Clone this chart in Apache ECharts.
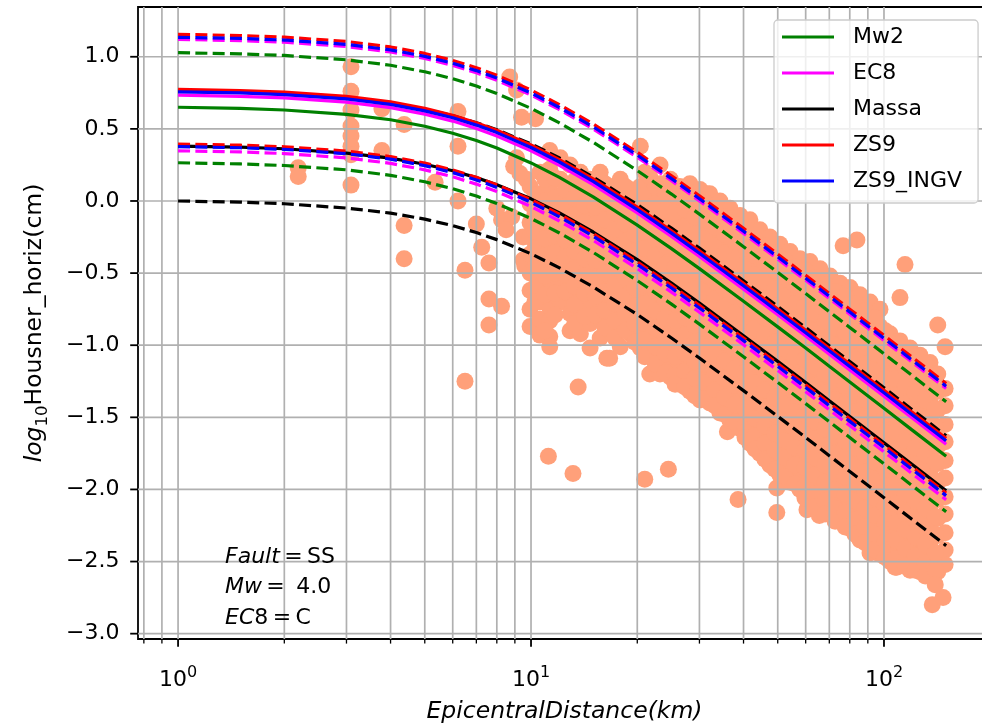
<!DOCTYPE html>
<html><head><meta charset="utf-8">
<script src="https://cdn.jsdelivr.net/npm/echarts@6/dist/echarts.min.js"></script>
<style>html,body{margin:0;padding:0;background:#fff}#chart{width:982px;height:723px}</style>
</head><body><div id="chart"></div>
<script>
const FONT = 'DejaVu Sans';
// distances (km) at which the model curves are read
const distance = [1, 1.5, 2, 3, 4, 5, 6, 7, 8, 10, 12, 15, 20, 25, 30, 40, 50, 60, 70, 80, 100, 120, 150];
const mw2Mean  = [0.65, 0.642, 0.631, 0.601, 0.563, 0.518, 0.47, 0.419, 0.367, 0.264, 0.165, 0.029, -0.167, -0.33, -0.469, -0.695, -0.873, -1.02, -1.146, -1.255, -1.437, -1.587, -1.77];
const mw2Up    = [1.028, 1.02, 1.009, 0.979, 0.941, 0.896, 0.848, 0.797, 0.745, 0.642, 0.543, 0.407, 0.211, 0.048, -0.091, -0.317, -0.495, -0.642, -0.768, -0.877, -1.059, -1.209, -1.392];
const mw2Low   = [0.265, 0.257, 0.246, 0.216, 0.178, 0.133, 0.085, 0.034, -0.018, -0.121, -0.22, -0.356, -0.552, -0.715, -0.854, -1.08, -1.258, -1.405, -1.531, -1.64, -1.822, -1.972, -2.155];
const ec8Mean  = [0.734, 0.726, 0.715, 0.685, 0.647, 0.602, 0.554, 0.503, 0.451, 0.348, 0.249, 0.113, -0.083, -0.246, -0.385, -0.611, -0.789, -0.936, -1.062, -1.171, -1.353, -1.503, -1.686];
const ec8Up    = [1.12, 1.112, 1.101, 1.071, 1.033, 0.988, 0.94, 0.889, 0.837, 0.734, 0.635, 0.499, 0.303, 0.14, 0.001, -0.225, -0.403, -0.55, -0.676, -0.785, -0.967, -1.117, -1.3];
const ec8Low   = [0.348, 0.34, 0.329, 0.299, 0.261, 0.216, 0.168, 0.117, 0.065, -0.038, -0.137, -0.273, -0.469, -0.632, -0.771, -0.997, -1.175, -1.322, -1.448, -1.557, -1.739, -1.889, -2.072];
const massaMean= [0.381, 0.373, 0.362, 0.332, 0.297, 0.255, 0.21, 0.162, 0.113, 0.015, -0.081, -0.215, -0.406, -0.569, -0.708, -0.934, -1.112, -1.259, -1.385, -1.494, -1.676, -1.826, -2.009];
const massaUp  = [0.762, 0.754, 0.743, 0.713, 0.678, 0.636, 0.591, 0.543, 0.494, 0.396, 0.3, 0.166, -0.025, -0.188, -0.327, -0.553, -0.731, -0.878, -1.004, -1.113, -1.295, -1.445, -1.628];
const massaLow = [0, -0.008, -0.019, -0.049, -0.084, -0.126, -0.171, -0.219, -0.268, -0.366, -0.462, -0.596, -0.787, -0.95, -1.089, -1.315, -1.493, -1.64, -1.766, -1.875, -2.057, -2.207, -2.39];
const zs9Mean  = [0.774, 0.766, 0.755, 0.725, 0.687, 0.642, 0.594, 0.543, 0.491, 0.388, 0.289, 0.153, -0.043, -0.206, -0.345, -0.571, -0.749, -0.896, -1.022, -1.131, -1.313, -1.463, -1.646];
const zs9Up    = [1.155, 1.147, 1.136, 1.106, 1.068, 1.023, 0.975, 0.924, 0.872, 0.769, 0.67, 0.534, 0.338, 0.175, 0.036, -0.19, -0.368, -0.515, -0.641, -0.75, -0.932, -1.082, -1.265];
const zs9Low   = [0.395, 0.387, 0.376, 0.346, 0.308, 0.263, 0.215, 0.164, 0.112, 0.009, -0.09, -0.226, -0.422, -0.585, -0.724, -0.95, -1.128, -1.275, -1.401, -1.51, -1.692, -1.842, -2.025];
const ingvMean = [0.757, 0.749, 0.738, 0.708, 0.67, 0.625, 0.577, 0.526, 0.474, 0.371, 0.272, 0.136, -0.06, -0.223, -0.362, -0.588, -0.766, -0.913, -1.039, -1.148, -1.33, -1.48, -1.663];
const ingvUp   = [1.135, 1.127, 1.116, 1.086, 1.048, 1.003, 0.955, 0.904, 0.852, 0.749, 0.65, 0.514, 0.318, 0.155, 0.016, -0.21, -0.388, -0.535, -0.661, -0.77, -0.952, -1.102, -1.285];
const ingvLow  = [0.377, 0.369, 0.358, 0.328, 0.29, 0.245, 0.197, 0.146, 0.094, -0.009, -0.108, -0.244, -0.44, -0.603, -0.742, -0.968, -1.146, -1.293, -1.419, -1.528, -1.71, -1.86, -2.043];

// observed points: isolated [distance, value]
const obsIsolated = [
 [2.19,0.23],[2.19,0.17],
 [3.09,0.93],[3.09,0.76],[3.09,0.63],[3.09,0.52],[3.09,0.45],[3.09,0.38],[3.09,0.32],[3.09,0.11],
 [3.78,0.64],[3.78,0.35],[4.37,0.53],[4.37,-0.17],[4.37,-0.40],[5.35,0.13],
 [6.21,0.62],[6.21,0.38],[6.21,0.0],[6.5,-0.48],[6.5,-1.25],
 [7.0,-0.16],[7.25,-0.32],[7.6,-0.43],[7.6,-0.68],[8.25,-0.73],[7.6,-0.86],
 [8.7,0.86],[9.1,0.77],[9.4,0.58],[10.3,0.57],[8.93,0.24],[9.3,0.19],[9.1,0.3],[9.7,0.15],
 [8.25,-0.13],[8.82,-0.11],[9.5,-0.25],[9.5,-0.41],[9.6,-0.45],[8.0,-0.05],[8.5,-0.2],
 [11.2,-1.77],[13.15,-1.89],[21.0,-1.93],[24.5,-1.86],[13.6,-1.29],[16.4,-1.09],
 [83.8,-0.27],[76.6,-0.31],[114.7,-0.44],[111,-0.67],[142,-0.86],[149,-1.01],[80.9,-0.62],[95.6,-0.77],
 [31.4,0.05],[58.7,-0.44],
 [137,-2.8],[147,-2.75],[38.6,-2.07],[49.7,-2.16],[49.7,-1.99],[36.0,-1.6],[60.5,-2.14],[65.6,-2.18],
 [72.7,-2.1],[91.3,-2.44],[108.6,-2.54]
];
// observed points in the dense cloud: [distance, [values...]]
const obsCloud = [
 [9.94, [0.1, -0.02, -0.15, -0.25, -0.37, -0.5, -0.62, -0.75, -0.87]],
 [10.6, [0.2, 0.05, -0.08, -0.2, -0.3, -0.45, -0.58, -0.7, -0.82, -0.93]],
 [11.3, [0.35, 0.22, 0.08, -0.05, -0.17, -0.3, -0.42, -0.55, -0.74, -0.83, -0.94, -1.01]],
 [12.1, [0.3, 0.15, 0.02, -0.1, -0.2, -0.32, -0.45, -0.58, -0.7]],
 [12.9, [0.25, 0.1, -0.03, -0.15, -0.28, -0.4, -0.52, -0.65, -0.78, -0.9]],
 [13.8, [0.2, 0.05, -0.08, -0.2, -0.32, -0.45, -0.57, -0.7, -0.82, -0.92]],
 [14.7, [0.15, 0.02, -0.1, -0.22, -0.35, -0.47, -0.6, -0.72, -0.85, -1.02]],
 [15.7, [0.2, 0.05, -0.07, -0.2, -0.32, -0.45, -0.57, -0.7, -0.82, -0.95]],
 [16.7, [0.1, -0.02, -0.15, -0.27, -0.4, -0.52, -0.65, -0.77, -0.9, -1.09]],
 [17.9, [0.15, 0.02, -0.1, -0.22, -0.35, -0.47, -0.6, -0.72, -0.85, -1.01]],
 [19.1, [0.08, -0.05, -0.17, -0.3, -0.42, -0.55, -0.67, -0.8, -0.92]],
 [20.4, [0.38, 0.1, -0.02, -0.15, -0.27, -0.4, -0.52, -0.65, -0.77, -0.9, -1.02]],
 [21.7, [0.17, 0.05, -0.08, -0.2, -0.32, -0.45, -0.57, -0.7, -0.82, -0.95, -1.07, -1.2]],
 [23.2, [0.25, 0.12, 0.0, -0.12, -0.25, -0.37, -0.5, -0.62, -0.75, -0.87, -1.0, -1.12, -1.2]],
 [24.8, [0.15, 0.02, -0.1, -0.22, -0.35, -0.47, -0.6, -0.72, -0.85, -0.97, -1.1, -1.22]],
 [26.4, [0.1, -0.02, -0.15, -0.27, -0.4, -0.52, -0.65, -0.77, -0.9, -1.02, -1.15, -1.27]],
 [28.2, [0.12, 0.0, -0.12, -0.25, -0.37, -0.5, -0.62, -0.75, -0.87, -1.0, -1.12, -1.25, -1.32]],
 [30.1, [0.08, -0.05, -0.17, -0.3, -0.42, -0.55, -0.67, -0.8, -0.92, -1.05, -1.17, -1.3, -1.38]],
 [32.1, [0.05, -0.07, -0.2, -0.32, -0.45, -0.57, -0.7, -0.82, -0.95, -1.07, -1.2, -1.32, -1.4]],
 [34.3, [0.0, -0.12, -0.25, -0.37, -0.5, -0.62, -0.75, -0.87, -1.0, -1.12, -1.25, -1.37, -1.47]],
 [36.6, [-0.05, -0.17, -0.3, -0.42, -0.55, -0.67, -0.8, -0.92, -1.05, -1.17, -1.3, -1.42, -1.52]],
 [39.1, [-0.1, -0.22, -0.35, -0.47, -0.6, -0.72, -0.85, -0.97, -1.1, -1.22, -1.35, -1.47, -1.58]],
 [41.7, [-0.13, -0.25, -0.37, -0.5, -0.62, -0.75, -0.87, -1.0, -1.12, -1.25, -1.37, -1.5, -1.62, -1.68]],
 [44.5, [-0.2, -0.32, -0.45, -0.57, -0.7, -0.82, -0.95, -1.07, -1.2, -1.32, -1.45, -1.57, -1.7, -1.75]],
 [47.5, [-0.25, -0.37, -0.5, -0.62, -0.75, -0.87, -1.0, -1.12, -1.25, -1.37, -1.5, -1.62, -1.75, -1.83]],
 [50.7, [-0.3, -0.42, -0.55, -0.67, -0.8, -0.92, -1.05, -1.17, -1.3, -1.42, -1.55, -1.67, -1.8, -1.9]],
 [54.2, [-0.35, -0.47, -0.6, -0.72, -0.85, -0.97, -1.1, -1.22, -1.35, -1.47, -1.6, -1.72, -1.85, -1.95]],
 [57.8, [-0.4, -0.52, -0.65, -0.77, -0.9, -1.02, -1.15, -1.27, -1.4, -1.52, -1.65, -1.77, -1.9, -2.0]],
 [61.7, [-0.42, -0.55, -0.67, -0.8, -0.92, -1.05, -1.17, -1.3, -1.42, -1.55, -1.67, -1.8, -1.92, -2.05]],
 [65.9, [-0.47, -0.6, -0.72, -0.85, -0.97, -1.1, -1.22, -1.35, -1.47, -1.6, -1.72, -1.85, -1.97, -2.1]],
 [70.3, [-0.52, -0.65, -0.77, -0.9, -1.02, -1.15, -1.27, -1.4, -1.52, -1.65, -1.77, -1.9, -2.02, -2.15]],
 [75.1, [-0.57, -0.7, -0.82, -0.95, -1.07, -1.2, -1.32, -1.45, -1.57, -1.7, -1.82, -1.95, -2.07, -2.2]],
 [80.1, [-0.6, -0.72, -0.85, -0.97, -1.1, -1.22, -1.35, -1.47, -1.6, -1.72, -1.85, -1.97, -2.1, -2.22, -2.27]],
 [85.5, [-0.65, -0.77, -0.9, -1.02, -1.15, -1.27, -1.4, -1.52, -1.65, -1.77, -1.9, -2.02, -2.15, -2.27, -2.35]],
 [91.3, [-0.7, -0.82, -0.95, -1.07, -1.2, -1.32, -1.45, -1.57, -1.7, -1.82, -1.95, -2.07, -2.2, -2.32, -2.4]],
 [97.4, [-0.75, -0.87, -1.0, -1.12, -1.25, -1.37, -1.5, -1.62, -1.75, -1.87, -2.0, -2.12, -2.25, -2.37, -2.45]],
 [104, [-0.92, -1.05, -1.17, -1.3, -1.42, -1.55, -1.67, -1.8, -1.92, -2.05, -2.17, -2.3, -2.42, -2.5]],
 [111, [-0.97, -1.1, -1.22, -1.35, -1.47, -1.6, -1.72, -1.85, -1.97, -2.1, -2.22, -2.35, -2.47, -2.53]],
 [118.5, [-1.02, -1.15, -1.27, -1.4, -1.52, -1.65, -1.77, -1.9, -2.02, -2.15, -2.27, -2.4, -2.52, -2.56]],
 [126.5, [-1.07, -1.2, -1.32, -1.45, -1.57, -1.7, -1.82, -1.95, -2.07, -2.2, -2.32, -2.45, -2.57]],
 [135, [-1.12, -1.25, -1.37, -1.5, -1.62, -1.75, -1.87, -2.0, -2.12, -2.25, -2.37, -2.5, -2.6]],
 [142, [-1.2, -1.32, -1.45, -1.57, -1.7, -1.82, -1.95, -2.07, -2.2, -2.32, -2.45, -2.57]],
 [149, [-1.3, -1.42, -1.55, -1.67, -1.8, -1.92, -2.05, -2.17, -2.3, -2.42, -2.52]]
];
// further observed points filling the gaps of the dense cloud
const obsCloudFill = [
 [10.26, [0.04, -0.09, -0.21, -0.33, -0.46, -0.6, -0.7]],
 [10.96, [0.15, 0.0, -0.12, -0.26, -0.38, -0.52, -0.65, -0.9]],
 [11.7, [0.16, 0.02, -0.11, -0.24, -0.36, -0.5, -0.64, -0.79]],
 [12.5, [0.08, -0.04, -0.16, -0.27, -0.39, -0.51, -0.63]],
 [13.3, [0.14, 0.02, -0.1, -0.22, -0.35, -0.47, -0.59, -0.72, -0.85]],
 [14.2, [0.1, -0.03, -0.15, -0.27, -0.4, -0.52, -0.64, -0.8]],
 [15.2, [0.08, -0.04, -0.16, -0.29, -0.41, -0.54, -0.66, -0.79]],
 [16.2, [0.12, 0.0, -0.13, -0.25, -0.38, -0.5, -0.63, -0.76, -0.88]],
 [17.3, [0.05, -0.08, -0.2, -0.33, -0.46, -0.58, -0.71, -0.83, -0.95]],
 [18.5, [0.1, -0.03, -0.16, -0.28, -0.41, -0.53, -0.66, -0.78, -0.9]],
 [19.7, [0.02, -0.1, -0.23, -0.35, -0.48, -0.6, -0.73, -0.85, -0.98]],
 [21.0, [0.2, 0.04, -0.08, -0.21, -0.33, -0.46, -0.58, -0.71, -0.83, -0.96, -1.08]],
 [22.5, [0.1, -0.02, -0.14, -0.26, -0.38, -0.5, -0.63, -0.76, -0.88, -1.01, -1.13]],
 [24.0, [0.06, -0.06, -0.19, -0.31, -0.44, -0.56, -0.69, -0.81, -0.94, -1.06, -1.19]],
 [25.6, [0.04, -0.08, -0.21, -0.33, -0.46, -0.58, -0.71, -0.83, -0.96, -1.08, -1.21, -1.27]],
 [27.3, [0.05, -0.06, -0.18, -0.31, -0.43, -0.56, -0.68, -0.81, -0.93, -1.06, -1.18, -1.29]],
 [29.1, [0.02, -0.11, -0.23, -0.36, -0.48, -0.61, -0.73, -0.86, -0.98, -1.11, -1.23, -1.35]],
 [31.1, [-0.01, -0.13, -0.26, -0.38, -0.51, -0.63, -0.76, -0.88, -1.01, -1.13, -1.26, -1.37]],
 [33.2, [-0.06, -0.18, -0.31, -0.43, -0.56, -0.68, -0.81, -0.93, -1.06, -1.18, -1.31, -1.42]],
 [35.4, [-0.11, -0.23, -0.36, -0.48, -0.61, -0.73, -0.86, -0.98, -1.11, -1.23, -1.36, -1.48]],
 [37.8, [-0.16, -0.28, -0.41, -0.53, -0.66, -0.78, -0.91, -1.03, -1.16, -1.28, -1.41, -1.53]],
 [40.4, [-0.19, -0.31, -0.44, -0.56, -0.69, -0.81, -0.94, -1.06, -1.19, -1.31, -1.44, -1.56, -1.64]],
 [43.1, [-0.26, -0.38, -0.51, -0.63, -0.76, -0.88, -1.01, -1.13, -1.26, -1.38, -1.51, -1.63, -1.72]],
 [46.0, [-0.31, -0.43, -0.56, -0.68, -0.81, -0.93, -1.06, -1.18, -1.31, -1.43, -1.56, -1.68, -1.79]],
 [49.1, [-0.36, -0.48, -0.61, -0.73, -0.86, -0.98, -1.11, -1.23, -1.36, -1.48, -1.61, -1.73, -1.86]],
 [52.4, [-0.41, -0.53, -0.66, -0.78, -0.91, -1.03, -1.16, -1.28, -1.41, -1.53, -1.66, -1.78, -1.91]],
 [55.9, [-0.46, -0.58, -0.71, -0.83, -0.96, -1.08, -1.21, -1.33, -1.46, -1.58, -1.71, -1.83, -1.96]],
 [59.7, [-0.48, -0.6, -0.73, -0.85, -0.98, -1.1, -1.23, -1.35, -1.48, -1.6, -1.73, -1.85, -1.98, -2.06]],
 [63.8, [-0.53, -0.65, -0.78, -0.9, -1.03, -1.15, -1.28, -1.4, -1.53, -1.65, -1.78, -1.9, -2.03, -2.12]],
 [68.1, [-0.58, -0.7, -0.83, -0.95, -1.08, -1.2, -1.33, -1.45, -1.58, -1.7, -1.83, -1.95, -2.08, -2.17]],
 [72.7, [-0.63, -0.75, -0.88, -1.0, -1.13, -1.25, -1.38, -1.5, -1.63, -1.75, -1.88, -2.0, -2.13, -2.22]],
 [77.6, [-0.66, -0.78, -0.91, -1.03, -1.16, -1.28, -1.41, -1.53, -1.66, -1.78, -1.91, -2.03, -2.16, -2.26]],
 [82.8, [-0.71, -0.83, -0.96, -1.08, -1.21, -1.33, -1.46, -1.58, -1.71, -1.83, -1.96, -2.08, -2.21, -2.31]],
 [88.4, [-0.76, -0.88, -1.01, -1.13, -1.26, -1.38, -1.51, -1.63, -1.76, -1.88, -2.01, -2.13, -2.26, -2.37]],
 [94.4, [-0.81, -0.93, -1.06, -1.18, -1.31, -1.43, -1.56, -1.68, -1.81, -1.93, -2.06, -2.18, -2.31, -2.42]],
 [100.8, [-0.9, -1.02, -1.11, -1.23, -1.36, -1.48, -1.61, -1.73, -1.86, -1.98, -2.11, -2.23, -2.36, -2.47]],
 [107.6, [-0.98, -1.1, -1.23, -1.35, -1.48, -1.6, -1.73, -1.85, -1.98, -2.1, -2.23, -2.35, -2.48, -2.54]],
 [114.9, [-1.03, -1.16, -1.28, -1.41, -1.53, -1.66, -1.78, -1.91, -2.03, -2.16, -2.28, -2.41, -2.53]],
 [122.6, [-1.08, -1.21, -1.33, -1.46, -1.58, -1.71, -1.83, -1.96, -2.08, -2.21, -2.33, -2.46, -2.56]],
 [130.9, [-1.13, -1.26, -1.38, -1.51, -1.63, -1.76, -1.88, -2.01, -2.13, -2.26, -2.38, -2.51, -2.6]],
 [139.7, [-1.2, -1.31, -1.44, -1.56, -1.69, -1.81, -1.94, -2.06, -2.19, -2.31, -2.44, -2.56, -2.66]]
];

// axis ticks
const xMajorTicks = [1, 10, 100];
const xMinorTicks = [0.8, 0.9, 2, 3, 4, 5, 6, 7, 8, 9, 20, 30, 40, 50, 60, 70, 80, 90];
const yTicks = [-3.0, -2.5, -2.0, -1.5, -1.0, -0.5, 0.0, 0.5, 1.0];
const legendNames = ['Mw2', 'EC8', 'Massa', 'ZS9', 'ZS9_INGV'];

const models = [
  {name: 'Mw2', color: '#008000', mean: mw2Mean, up: mw2Up, low: mw2Low},
  {name: 'EC8', color: '#ff00ff', mean: ec8Mean, up: ec8Up, low: ec8Low},
  {name: 'Massa', color: '#000000', mean: massaMean, up: massaUp, low: massaLow},
  {name: 'ZS9', color: '#ff0000', mean: zs9Mean, up: zs9Up, low: zs9Low},
  {name: 'ZS9_INGV', color: '#0000ff', mean: ingvMean, up: ingvUp, low: ingvLow}
];

const obsData = obsIsolated.slice();
obsCloud.concat(obsCloudFill).forEach(c => c[1].forEach(v => obsData.push([c[0], v])));

const pair = arr => distance.map((d, i) => [d, arr[i]]);
const lineSeries = [];
models.forEach(m => {
  const base = {type: 'line', symbol: 'none', showSymbol: false, silent: true, z: 5, animation: false, color: m.color};
  lineSeries.push(Object.assign({}, base, {name: m.name, data: pair(m.mean), lineStyle: {color: m.color, width: 3.2, type: 'solid'}}));
  lineSeries.push(Object.assign({}, base, {name: m.name + ' +σ', data: pair(m.up), lineStyle: {color: m.color, width: 3.2, type: [12, 5.3]}}));
  lineSeries.push(Object.assign({}, base, {name: m.name + ' −σ', data: pair(m.low), lineStyle: {color: m.color, width: 3.2, type: [12, 5.3]}}));
});

const gridData = xMajorTicks.concat(xMinorTicks).map(v => [v, 0, 0]).concat(yTicks.map(v => [1, v, 1]));
const tickData = xMajorTicks.map(v => [v, 0, 3]).concat(xMinorTicks.map(v => [v, 0, 2])).concat(yTicks.map(v => [1, v, 4]));

function renderGrid(params, api) {
  const cs = params.coordSys;
  const k = api.value(2);
  if (k === 0) {
    const x = api.coord([api.value(0), 0])[0];
    return {type: 'line', shape: {x1: x, y1: cs.y, x2: x, y2: cs.y + cs.height}, style: {stroke: '#b0b0b0', lineWidth: 1.7}};
  }
  const y = api.coord([1, api.value(1)])[1];
  return {type: 'line', shape: {x1: cs.x, y1: y, x2: cs.x + cs.width, y2: y}, style: {stroke: '#b0b0b0', lineWidth: 1.7}};
}
function renderTicks(params, api) {
  const cs = params.coordSys;
  const k = api.value(2);
  const bottom = cs.y + cs.height;
  if (k === 2 || k === 3) {
    const x = api.coord([api.value(0), 0])[0];
    const len = k === 3 ? 7.8 : 4.6;
    return {type: 'line', shape: {x1: x, y1: bottom, x2: x, y2: bottom + len}, style: {stroke: '#000', lineWidth: k === 3 ? 1.8 : 1.3}};
  }
  const y = api.coord([1, api.value(1)])[1];
  return {type: 'line', shape: {x1: cs.x - 7.8, y1: y, x2: cs.x, y2: y}, style: {stroke: '#000', lineWidth: 1.8}};
}

const chart = echarts.init(document.getElementById('chart'), null, {renderer: 'canvas'});
const option = {
  animation: false,
  backgroundColor: '#ffffff',
  textStyle: {fontFamily: FONT, color: '#000'},
  grid: {left: 138, top: 7, width: 853, height: 632, show: true, borderColor: '#000', borderWidth: 1.8, backgroundColor: 'transparent', containLabel: false, outerBoundsMode: 'none'},
  xAxis: {
    type: 'log', logBase: 10, min: 0.77, max: 201,
    axisLine: {show: false}, axisTick: {show: false}, splitLine: {show: false}, minorTick: {show: false},
    axisLabel: {
      margin: 26, showMinLabel: true, showMaxLabel: true,
      formatter: v => { const l = Math.log10(v); const e = Math.round(l); if (Math.abs(l - e) > 1e-6) return ''; return '{b|10}{s|' + e + '}'; },
      rich: {
        b: {fontSize: 22, lineHeight: 30, verticalAlign: 'middle', fontFamily: FONT, color: '#000'},
        s: {fontSize: 16, lineHeight: 18, verticalAlign: 'top', fontFamily: FONT, color: '#000'}
      }
    },
    name: 'EpicentralDistance(km)', nameLocation: 'middle', nameGap: 61,
    nameTextStyle: {fontSize: 23.5, fontStyle: 'italic', fontFamily: FONT, color: '#000'}
  },
  yAxis: {
    type: 'value', min: -3.037, max: 1.345, splitNumber: 9,
    axisLine: {show: false}, axisTick: {show: false}, splitLine: {show: false},
    axisLabel: {
      margin: 18.5, fontSize: 22, color: '#000', fontFamily: FONT,
      formatter: v => { if (Math.abs(v * 2 - Math.round(v * 2)) > 1e-6) return ''; const r = Math.round(v * 2) / 2; return (r < 0 ? '\u2212' : '') + Math.abs(r).toFixed(1); }
    },
    name: '{i|log}{s|10}{n|Housner_horiz(cm)}', nameLocation: 'middle', nameRotate: 90, nameGap: 87,
    nameTextStyle: {
      rich: {
        i: {fontSize: 23.5, fontStyle: 'italic', lineHeight: 32, verticalAlign: 'middle', fontFamily: FONT, color: '#000'},
        s: {fontSize: 16.5, lineHeight: 19, verticalAlign: 'bottom', fontFamily: FONT, color: '#000'},
        n: {fontSize: 23.5, lineHeight: 32, verticalAlign: 'middle', fontFamily: FONT, color: '#000'}
      }
    }
  },
  legend: {
    data: legendNames, orient: 'vertical', left: 774, top: 20,
    padding: [4, 16, 9, 8], itemGap: 10, itemWidth: 52, itemHeight: 3, icon: 'rect',
    backgroundColor: 'rgba(255,255,255,0.8)', borderColor: '#cccccc', borderWidth: 1.3, borderRadius: 4,
    selectedMode: false,
    textStyle: {fontSize: 22, lineHeight: 26, color: '#000', fontFamily: FONT, padding: [0, 0, 0, 14]}
  },
  graphic: [
    {type: 'text', x: 225, y: 557, z: 10, style: {text: '{i|Fault}{n|\u2009=\u2009SS}', verticalAlign: 'middle', rich: {i: {fontSize: 22, fontStyle: 'italic', fontFamily: FONT, fill: '#000'}, n: {fontSize: 22, fontFamily: FONT, fill: '#000'}}}},
    {type: 'text', x: 225, y: 587, z: 10, style: {text: '{i|Mw}{n|\u2009=\u2009 4.0}', verticalAlign: 'middle', rich: {i: {fontSize: 22, fontStyle: 'italic', fontFamily: FONT, fill: '#000'}, n: {fontSize: 22, fontFamily: FONT, fill: '#000'}}}},
    {type: 'text', x: 225, y: 618, z: 10, style: {text: '{i|EC}{n|8\u2009=\u2009C}', verticalAlign: 'middle', rich: {i: {fontSize: 22, fontStyle: 'italic', fontFamily: FONT, fill: '#000'}, n: {fontSize: 22, fontFamily: FONT, fill: '#000'}}}}
  ],
  series: [
    {type: 'scatter', name: 'observed', data: obsData, symbol: 'circle', symbolSize: 17, z: 1, silent: true, large: false,
     itemStyle: {color: '#FFA07A', opacity: 1}},
    {type: 'custom', name: 'gridlines', data: gridData, renderItem: renderGrid, z: 3, silent: true, clip: false, encode: {x: 0, y: 1}},
    ...lineSeries,
    {type: 'custom', name: 'ticks', data: tickData, renderItem: renderTicks, z: 6, silent: true, clip: false, encode: {x: 0, y: 1}}
  ]
};
chart.setOption(option);
</script>
</body></html>
